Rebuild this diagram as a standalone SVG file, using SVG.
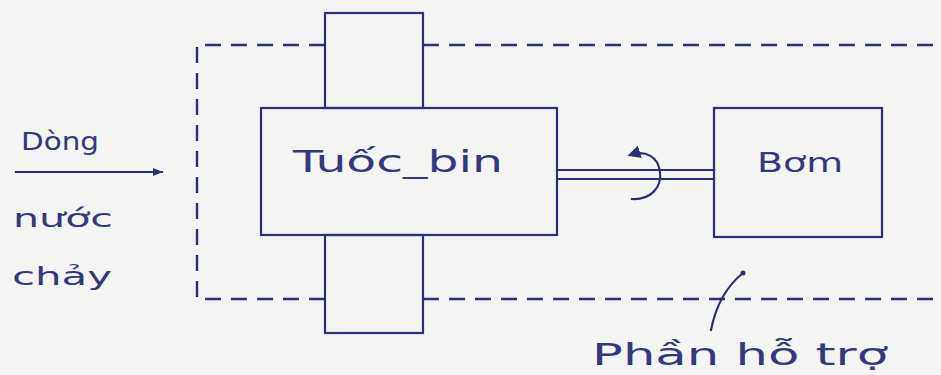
<svg xmlns="http://www.w3.org/2000/svg" width="941" height="375" viewBox="0 0 941 375">
  <defs>
    <style>
      .ln { fill: none; stroke: #2b2f7a; stroke-width: 2.2; stroke-linecap: square; }
      .dash { fill: none; stroke: #2b2f7a; stroke-width: 2.4; stroke-dasharray: 16 10; }
      .txt { font-family: "DejaVu Sans", "Liberation Sans", sans-serif; fill: #33387f; }
    </style>
    <marker id="ah" viewBox="0 0 10 10" refX="9" refY="5" markerWidth="12" markerHeight="10" orient="auto" markerUnits="userSpaceOnUse">
      <path d="M0,1 L10,5 L0,9 Z" fill="#2b2f7a"/>
    </marker>
    <marker id="ah2" viewBox="0 0 10 10" refX="8" refY="5" markerWidth="13" markerHeight="13" orient="auto" markerUnits="userSpaceOnUse">
      <path d="M0,0 L10,5 L0,10 Z" fill="#2b2f7a"/>
    </marker>
  </defs>
  <rect width="941" height="375" fill="#f4f4f2"/>

  <g id="support-frame">
    <path class="dash" d="M325,45 H197 V299 H325"/>
    <path class="dash" d="M423,45 H941"/>
    <path class="dash" d="M423,299 H941"/>
  </g>

  <g id="top-block">
    <rect class="ln" x="325" y="13" width="98" height="95"/>
  </g>
  <g id="bottom-block">
    <rect class="ln" x="325" y="235" width="98" height="98"/>
  </g>
  <g id="turbine">
    <rect class="ln" x="261" y="108" width="296" height="127"/>
    <text class="txt" x="293" y="172" font-size="31" textLength="210" lengthAdjust="spacingAndGlyphs">Tuốc_bin</text>
  </g>
  <g id="pump">
    <rect class="ln" x="714" y="108" width="168" height="129"/>
    <text class="txt" x="757" y="172" font-size="27" textLength="86" lengthAdjust="spacingAndGlyphs">Bơm</text>
  </g>

  <g id="connectors">
    <path class="ln" d="M16,172 H162" stroke-width="2.6" marker-end="url(#ah)"/>
    <path class="ln" d="M557,170 H714 M557,179 H714" stroke-width="2"/>
    <path class="ln" d="M632,199 C650,200 662,188 660,172 C658,156 645,150 630,155" marker-end="url(#ah2)"/>
    <path class="ln" d="M743,273 C728,285 716,305 711,330"/>
    <circle cx="743" cy="273" r="2.5" fill="#2b2f7a"/>
  </g>

  <g id="labels">
    <text class="txt" x="21" y="150" font-size="25" textLength="78" lengthAdjust="spacingAndGlyphs">Dòng</text>
    <text class="txt" x="13" y="227" font-size="25" textLength="100" lengthAdjust="spacingAndGlyphs">nước</text>
    <text class="txt" x="12" y="285" font-size="25" textLength="100" lengthAdjust="spacingAndGlyphs">chảy</text>
    <text class="txt" x="592" y="365" font-size="30" textLength="296" lengthAdjust="spacingAndGlyphs">Phần hỗ trợ</text>
  </g>
</svg>
